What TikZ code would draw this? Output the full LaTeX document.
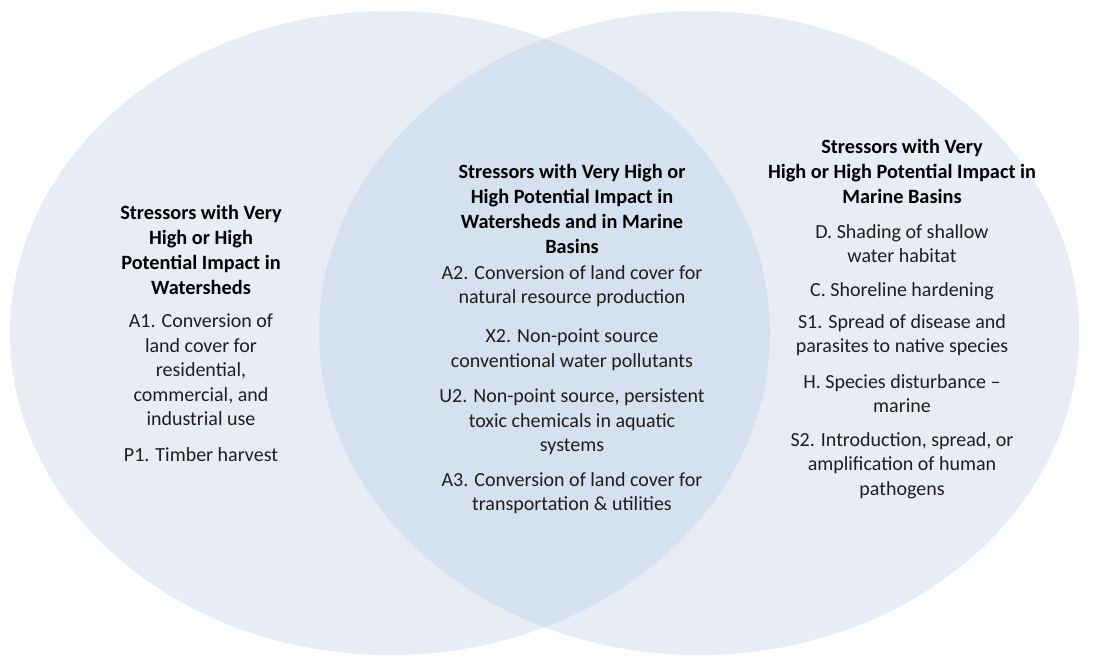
\documentclass[tikz,border=0pt]{standalone}
\usepackage{fontspec}
\setmainfont{Carlito}
\definecolor{setfill}{HTML}{E7ECF5}
\definecolor{lensfill}{HTML}{D6E1EF}
\definecolor{inktext}{HTML}{1E1E1E}
\begin{document}
\begin{tikzpicture}[x=1pt,y=-1pt,
  txt/.style={anchor=north,align=center,inner sep=0pt,text=inktext,
    font=\fontsize{20}{24.5}\selectfont},
  head/.style={txt,font=\fontsize{20.3}{25}\selectfont\bfseries,text=black}]
\useasboundingbox (0,0) rectangle (1106,657);
% the two sets
\fill[setfill] (390,333) ellipse [x radius=380pt, y radius=322pt];
\fill[setfill] (699,333) ellipse [x radius=380pt, y radius=322pt];
% their overlap
\begin{scope}
  \clip (390,333) ellipse [x radius=380pt, y radius=322pt];
  \fill[lensfill] (699,333) ellipse [x radius=380pt, y radius=322pt];
\end{scope}
% watersheds only
\node[head] (lt) at (201,205) {Stressors with Very\\High or High\\Potential Impact in\\Watersheds};
\node[txt] (la1) at (201,314) {A1. Conversion of\\land cover for\\residential,\\commercial, and\\industrial use};
\node[txt] (lp1) at (201,447) {P1. Timber harvest};
% both
\node[head] (ct) at (572,164) {Stressors with Very High or\\High Potential Impact in\\Watersheds and in Marine\\Basins};
\node[txt] (ca2) at (572,265) {A2. Conversion of land cover for\\natural resource production};
\node[txt] (cx2) at (572,329) {X2. Non-point source\\conventional water pollutants};
\node[txt] (cu2) at (572,389) {U2. Non-point source, persistent\\toxic chemicals in aquatic\\systems};
\node[txt] (ca3) at (572,472) {A3. Conversion of land cover for\\transportation \& utilities};
% marine basins only
\node[head] (rt) at (902,139) {Stressors with Very\\High or High Potential Impact in\\Marine Basins};
\node[txt] (rd) at (902,224) {D. Shading of shallow\\water habitat};
\node[txt] (rc) at (902,282) {C. Shoreline hardening};
\node[txt] (rs1) at (902,314) {S1. Spread of disease and\\parasites to native species};
\node[txt] (rh) at (902,374) {H. Species disturbance –\\marine};
\node[txt] (rs2) at (902,432) {S2. Introduction, spread, or\\amplification of human\\pathogens};
\end{tikzpicture}
\end{document}
